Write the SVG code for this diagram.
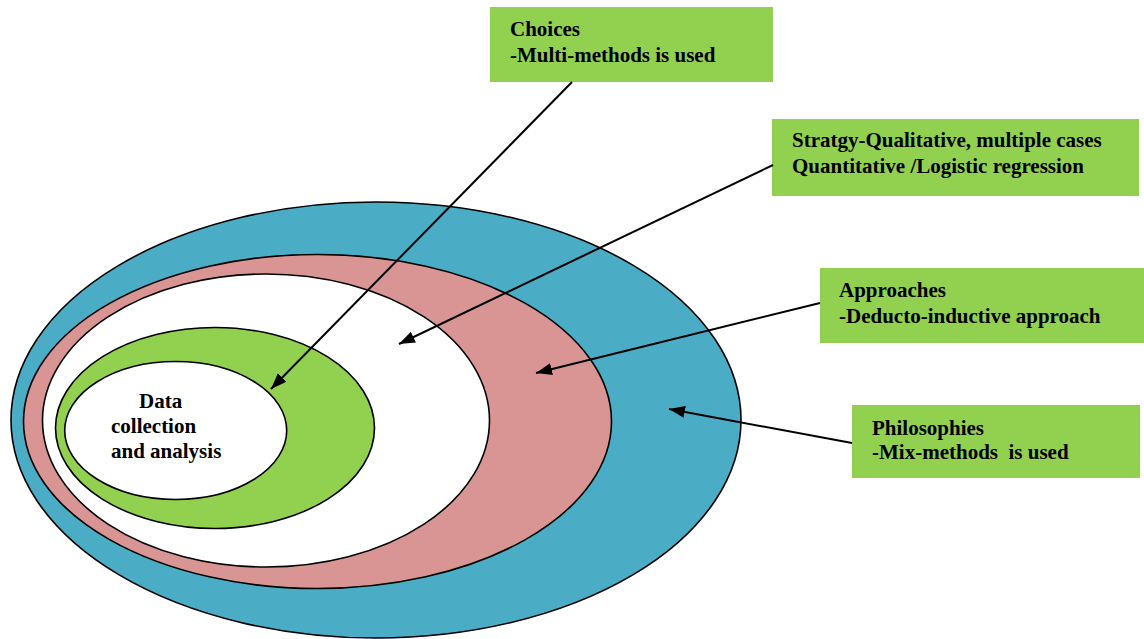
<svg xmlns="http://www.w3.org/2000/svg" width="1144" height="639" viewBox="0 0 1144 639">
<style>
.ring{stroke:#000;stroke-width:1.6}
.box{fill:#92d050}
.t{font-family:"Liberation Serif","Times New Roman",serif;font-weight:bold;font-size:21px;fill:#000;white-space:pre}
.c{stroke:#000;stroke-width:2;fill:none;marker-end:url(#ah)}
</style>
<defs>
<marker id="ah" markerUnits="userSpaceOnUse" markerWidth="18" markerHeight="14" refX="16" refY="6" orient="auto">
<path d="M0,0 L16,6 L0,12 Z" fill="#000"/>
</marker>
</defs>
<rect width="1144" height="639" fill="#fff"/>
<g id="philosophies-ring"><ellipse class="ring" cx="376" cy="420" rx="365" ry="218" fill="#4bacc6"/></g>
<g id="approaches-ring"><ellipse class="ring" cx="317.5" cy="421.5" rx="294" ry="167" fill="#d99594"/></g>
<g id="strategy-ring"><ellipse class="ring" cx="266" cy="420.5" rx="223.5" ry="146.5" fill="#fff"/></g>
<g id="choices-ring"><ellipse class="ring" cx="215" cy="428" rx="159.5" ry="100.5" fill="#92d050"/></g>
<g id="data-core">
<ellipse class="ring" cx="175.7" cy="430.5" rx="111" ry="69" fill="#fff"/>
<text class="t" x="139" y="408">Data</text>
<text class="t" x="111" y="433">collection</text>
<text class="t" x="111" y="458">and analysis</text>
</g>
<g id="choices-box">
<rect class="box" x="490" y="7" width="283" height="75"/>
<text class="t" x="510" y="36">Choices</text>
<text class="t" x="510" y="62">-Multi-methods is used</text>
</g>
<g id="strategy-box">
<rect class="box" x="772" y="119" width="367" height="77"/>
<text class="t" x="792" y="147">Stratgy-Qualitative, multiple cases</text>
<text class="t" x="792" y="173">Quantitative /Logistic regression</text>
</g>
<g id="approaches-box">
<rect class="box" x="820" y="268" width="324" height="75"/>
<text class="t" x="839" y="297">Approaches</text>
<text class="t" x="839" y="323">-Deducto-inductive approach</text>
</g>
<g id="philosophies-box">
<rect class="box" x="852" y="405" width="288" height="73"/>
<text class="t" x="872" y="435">Philosophies</text>
<text class="t" x="872" y="459" xml:space="preserve">-Mix-methods  is used</text>
</g>
<g id="connectors">
<line class="c" x1="572" y1="82" x2="271" y2="389"/>
<line class="c" x1="773" y1="165" x2="399" y2="344"/>
<line class="c" x1="820" y1="303" x2="536" y2="373"/>
<line class="c" x1="852" y1="443" x2="669" y2="409"/>
</g>
</svg>
